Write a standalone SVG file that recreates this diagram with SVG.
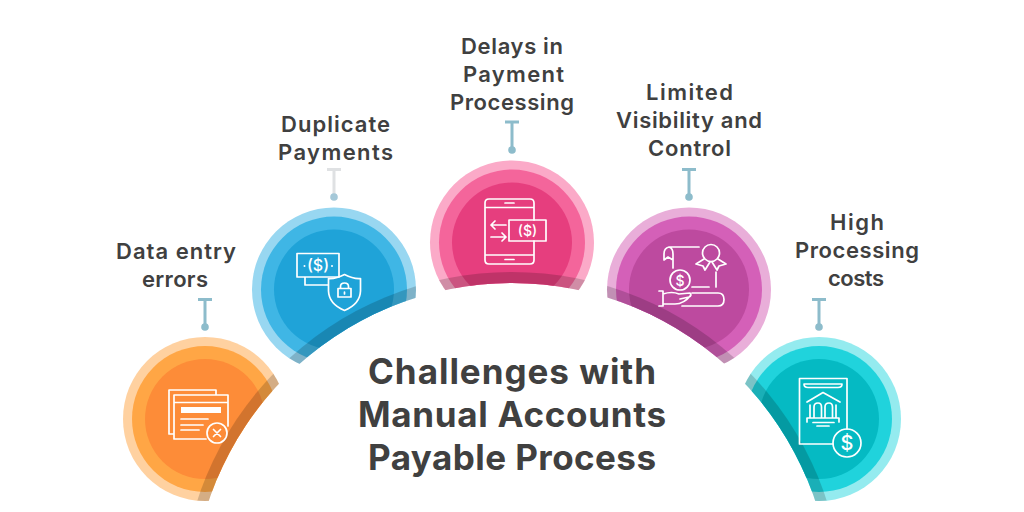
<svg xmlns="http://www.w3.org/2000/svg" width="1024" height="512" viewBox="0 0 1024 512">
<style>
.lbl{font-family:"Inter","Open Sans","Liberation Sans",sans-serif;font-weight:600;font-size:22px;fill:#404040;text-anchor:middle}
.ttl{font-family:"Inter","Open Sans","Liberation Sans",sans-serif;font-weight:700;font-size:35px;fill:#404040;text-anchor:middle}
.ico{fill:none;stroke:#fff;stroke-width:1.7;stroke-linecap:round;stroke-linejoin:round}
.glyph{font-family:"Inter","Liberation Sans",sans-serif;font-weight:500;fill:#fff;text-anchor:middle}
.band{fill:#000;fill-opacity:.17}
.stem{stroke:#8dbccb;stroke-width:3;fill:none}
.dot{fill:#8dbccb}
</style>
<defs>
<clipPath id="outside"><path clip-rule="evenodd" d="M0 0H1024V512H0ZM192 603a320 320 0 1 0 640 0a320 320 0 1 0 -640 0Z"/></clipPath>
<clipPath id="near"><circle cx="512" cy="603" r="331"/></clipPath>
</defs>
<rect width="1024" height="512" fill="#fff"/>
<g id="connectors">
<path class="stem" d="M198 299.500H212M205 299.500V327"/><circle class="dot" cx="205" cy="327" r="3.800"/>
<path d="M327 169.500H341M334 169.500V197" stroke="#dfe1e3" stroke-width="3" fill="none"/><circle cx="334" cy="197" r="3.800" fill="#a5c8d8"/>
<path class="stem" d="M505 122H519M512 122V150"/><circle class="dot" cx="512" cy="150" r="3.800"/>
<path class="stem" d="M682 169.500H696M689 169.500V197"/><circle class="dot" cx="689" cy="197" r="3.800"/>
<path class="stem" d="M812 299.500H826M819 299.500V327"/><circle class="dot" cx="819" cy="327" r="3.800"/>
</g>
<g id="node-data-entry">
<g clip-path="url(#outside)">
<circle cx="205" cy="419" r="82" fill="#ffd1a0"/><circle cx="205" cy="419" r="73" fill="#ffa645"/><circle cx="205" cy="419" r="60" fill="#fd8c38"/>
<g clip-path="url(#near)"><circle class="band" cx="205" cy="419" r="82"/></g>
</g>
<path class="ico" d="M174 434H169V390H216V395M174 395H228V426M174 395V439H206M174 402.500H228M181 419H208M181 425H203M181 430H199"/>
<rect x="181" y="407" width="40" height="6" fill="#fff"/>
<circle class="ico" cx="217" cy="433" r="10"/><path class="ico" d="M213.500 429.500L220.500 436.500M220.500 429.500L213.500 436.500"/>
<text class="lbl" x="176" y="259" textLength="120">Data entry</text><text class="lbl" x="175" y="287" textLength="66">errors</text>
</g>
<g id="node-duplicate">
<g clip-path="url(#outside)">
<circle cx="334" cy="289.500" r="82" fill="#98d7f1"/><circle cx="334" cy="289.500" r="73" fill="#3fb6e5"/><circle cx="334" cy="289.500" r="60" fill="#1fa3d8"/>
<g clip-path="url(#near)"><circle class="band" cx="334" cy="289.500" r="82"/></g>
</g>
<path class="ico" d="M297 253.500H339V277H297ZM305 277V285H328"/>
<text class="glyph" x="318" y="271" font-size="16">($)</text>
<circle cx="304.500" cy="266" r="1" fill="#fff"/><circle cx="332" cy="266" r="1" fill="#fff"/>
<path class="ico" d="M344.500 274.500Q336 279 328.500 278.500V291Q329 304 344.500 310.500Q360 304 360.500 291V278.500Q353 279 344.500 274.500Z"/>
<path class="ico" d="M338 288.500H351V297H338ZM340.500 288.500V286.500Q340.500 283 344.500 283Q348.500 283 348.500 286.500V288.500M344.500 292V294"/>
<text class="lbl" x="335.500" y="132" textLength="109">Duplicate</text><text class="lbl" x="335.500" y="160" textLength="115">Payments</text>
</g>
<g id="node-delays">
<g clip-path="url(#outside)">
<circle cx="512" cy="242.500" r="82" fill="#fbaac8"/><circle cx="512" cy="242.500" r="73" fill="#f4659b"/><circle cx="512" cy="242.500" r="60" fill="#e63e7e"/>
<g clip-path="url(#near)"><circle class="band" cx="512" cy="242.500" r="82"/></g>
</g>
<path class="ico" d="M534 220V203Q534 199 530 199H489Q485 199 485 203V260Q485 264 489 264H530Q534 264 534 260V241M485 207.500H534M485 255H534M505 203H514M505 259.500H514"/>
<rect class="ico" x="509" y="220" width="37" height="21"/>
<path class="ico" d="M506 225H491M495 221L491 225L495 229M491 237H506M502 233L506 237L502 241"/>
<text class="glyph" x="527.500" y="236" font-size="14">($)</text>
<text class="lbl" x="512" y="54" textLength="102">Delays in</text><text class="lbl" x="513.500" y="82" textLength="101">Payment</text><text class="lbl" x="512" y="110" textLength="124">Processing</text>
</g>
<g id="node-visibility">
<g clip-path="url(#outside)">
<circle cx="689" cy="289.500" r="82" fill="#e9aed9"/><circle cx="689" cy="289.500" r="73" fill="#d460b8"/><circle cx="689" cy="289.500" r="60" fill="#bd4a9f"/>
<g clip-path="url(#near)"><circle class="band" cx="689" cy="289.500" r="82"/></g>
</g>
<path class="ico" d="M699 247H669Q664 248 664 254V260L668 257L673 260M669 247Q673 248 673 254V268M716 272V287M692 287H709"/>
<circle class="ico" cx="711" cy="253" r="8.500"/>
<path class="ico" d="M704 259L696 264L703 266L705 270L710 262M718 259L726 264L719 266L717 270L712 262"/>
<circle class="ico" cx="680" cy="280" r="10"/>
<text class="glyph" x="680" y="285.500" font-size="14">$</text>
<path class="ico" d="M692 293H718Q724 293 724 299.500Q724 306 718 306H682M659 291H663V306H659M663 294Q672 291 679 294L690 293Q692 296 689 297L680 299M663 304H675Q684 304 691 295"/>
<text class="lbl" x="689.500" y="100" textLength="87">Limited</text><text class="lbl" x="689" y="128" textLength="146">Visibility and</text><text class="lbl" x="689.500" y="156" textLength="83">Control</text>
</g>
<g id="node-costs">
<g clip-path="url(#outside)">
<circle cx="819" cy="419" r="82" fill="#94ebef"/><circle cx="819" cy="419" r="73" fill="#20d3dc"/><circle cx="819" cy="419" r="60" fill="#05bac3"/>
<g clip-path="url(#near)"><circle class="band" cx="819" cy="419" r="82"/></g>
</g>
<path class="ico" d="M833 444H799.500V378.500H847V429"/>
<path class="ico" d="M804 384H842Q842 387.500 838 387.500H808Q804 387.500 804 384Z"/>
<path class="ico" d="M807 402L823 392.500L840 402M810 417V405M836 417V405M814 417V407Q814 403 818 403Q821.500 403 821.500 407V417M825 417V407Q825 403 829 403Q832.500 403 832.500 407V417M807 422V418H839V422M813 422.500H834M817 426H829"/>
<circle class="ico" cx="847" cy="443" r="14"/>
<text class="glyph" x="847" y="450" font-size="20" font-weight="400">$</text>
<text class="lbl" x="857" y="230" textLength="54">High</text><text class="lbl" x="857" y="258" textLength="124">Processing</text><text class="lbl" x="856" y="286" textLength="56">costs</text>
</g>
<g id="title">
<text class="ttl" x="512" y="384" textLength="288">Challenges with</text><text class="ttl" x="512" y="427" textLength="308">Manual Accounts</text><text class="ttl" x="512" y="470" textLength="288">Payable Process</text>
</g>
</svg>
